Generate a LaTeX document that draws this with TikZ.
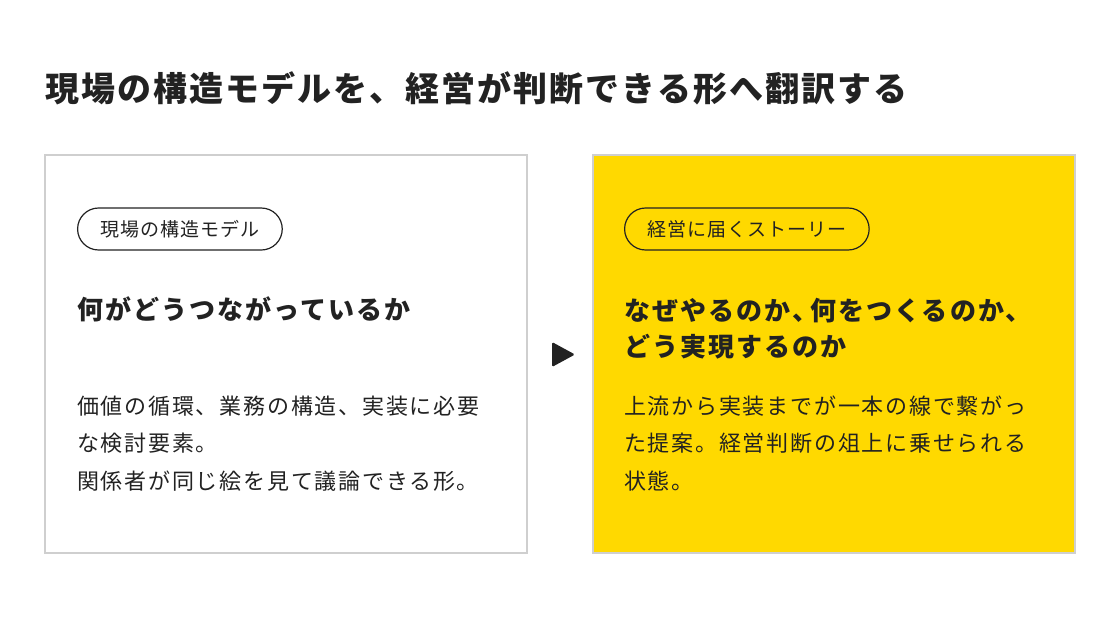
\documentclass[tikz,border=0pt]{standalone}
\usepackage{fontspec}
\setmainfont{Noto Sans CJK JP}
\usepackage{tikz}
\usetikzlibrary{positioning}
\definecolor{ink}{HTML}{222222}
\definecolor{frame}{HTML}{CFCFCF}
\definecolor{mustard}{HTML}{FFD900}

\begin{document}
\begin{tikzpicture}[x=1pt,y=-1pt]
\tikzset{panel/.style = {draw=frame,line width=2pt}}
\tikzset{pill/.style = {draw=ink,line width=1.2pt,rounded corners=21pt,minimum height=42pt,inner xsep=23pt,inner ysep=0pt,text=ink,font=\fontsize{19}{20}\selectfont\addfontfeature{LetterSpace=5}}}
\tikzset{head/.style = {anchor=base west,inner sep=0pt,text=ink,align=left,font=\fontsize{26}{36}\bfseries\addfontfeature{LetterSpace=8}}}
\tikzset{body/.style = {anchor=base west,inner sep=0pt,text=ink,align=left,font=\fontsize{22}{37.5}\selectfont\addfontfeature{LetterSpace=8}}}
\useasboundingbox (0,0) rectangle (1120,619);
\fill[white] (0,0) rectangle (1120,619);
% title
\node[anchor=base west,inner sep=0pt,text=ink,font=\fontsize{34}{40}\bfseries\addfontfeature{LetterSpace=6}] (title) at (45,101) {現場の構造モデルを、経営が判断できる形へ翻訳する};
% panels
\draw[panel,fill=white] (45,155) rectangle (527,553);
\draw[panel,fill=mustard] (593,155) rectangle (1075,553);
% left panel (base = last line)
\node[pill,anchor=west] (tagl) at (77,229) {現場の構造モデル};
\node[head] (headl) at (77,319) {何がどうつながっているか};
\node[body] (bodyl) at (77,489) {価値の循環、業務の構造、実装に必要\\な検討要素。\\関係者が同じ絵を見て議論できる形。};
% right panel
\node[pill,anchor=west] (tagr) at (624,229) {経営に届くストーリー};
\node[head] (headr) at (624,356) {なぜやるのか、\kern-8pt 何をつくるのか、\\どう実現するのか};
\node[body] (bodyr) at (624,489) {上流から実装までが一本の線で繋がっ\\た提案。経営判断の俎上に乗せられる\\状態。};
% arrow
\fill[ink,rounded corners=1.5pt] (552,342) -- (575,354.5) -- (552,367) -- cycle;
\end{tikzpicture}
\end{document}
